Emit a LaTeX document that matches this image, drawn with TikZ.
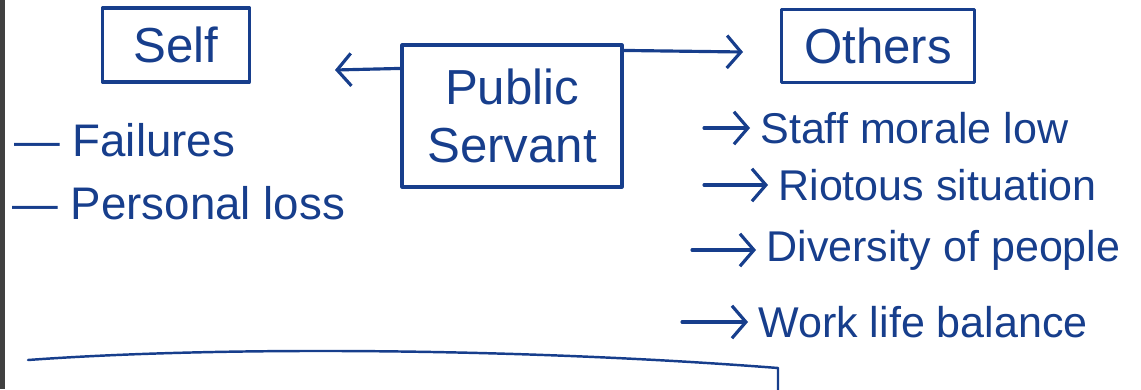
\documentclass[tikz,border=0pt]{standalone}
\usepackage{fontspec}
\setmainfont{Liberation Sans}
\usetikzlibrary{arrows.meta, positioning}
\definecolor{penBlue}{HTML}{173E8C}

\begin{document}
\begin{tikzpicture}[x=0.02cm, y=-0.02cm,
    pen/.style={draw=penBlue, line width=1.8pt, line cap=round, line join=round},
    arr/.style={pen, -{Straight Barb[length=2.8mm, width=6.5mm, line width=1.8pt]}},
    boxnode/.style={pen, text=penBlue, inner sep=2pt, font=\fontsize{28}{33}\selectfont, align=center},
    item/.style={text=penBlue, inner sep=0pt, anchor=west, font=\fontsize{26}{30}\selectfont},
    ritem/.style={item, font=\fontsize{24.5}{30}\selectfont}]
    \useasboundingbox (0,0) rectangle (1141,389);
    \fill[black!75] (0,0) rectangle (5,389);
    % the three boxes
    \node[boxnode, minimum width=2.94cm, minimum height=1.48cm] (self) at (176,45) {Self};
    \node[boxnode, minimum width=4.4cm, minimum height=2.84cm] (ps) at (512,116) {Public\\Servant};
    \node[boxnode, minimum width=3.86cm, minimum height=1.46cm] (others) at (878,46) {Others};
    \coordinate (selftip) at (335,70);
    \coordinate (othtip) at (743,52);
    \draw[arr] ([yshift=-0.5cm]ps.north west) -- (selftip);
    \draw[arr] ([yshift=-0.14cm]ps.north east) -- (othtip);
    % self side
    \node[item] (fail) at (14,140) {— Failures};
    \node[item] (loss) at (12,203) {— Personal loss};
    % others side
    \node[ritem] (staff) at (760,128) {Staff morale low};
    \node[ritem] (riot) at (778,185) {Riotous situation};
    \node[ritem] (div) at (766,250) {Diversity of people};
    \node[ritem] (work) at (758,322) {Work life balance};
    \foreach \n/\x in {staff/704, riot/704, div/692, work/682} {
      \coordinate (\n-a) at (\x,0);
      \draw[arr] (\n-a |- \n.west) -- ([xshift=-0.2cm]\n.west);
    }
    % bottom box, cut off
    \draw[pen, line width=1.4pt] (28,360) .. controls (220,346) and (520,348) .. (778,368) -- (778,392);
\end{tikzpicture}
\end{document}
